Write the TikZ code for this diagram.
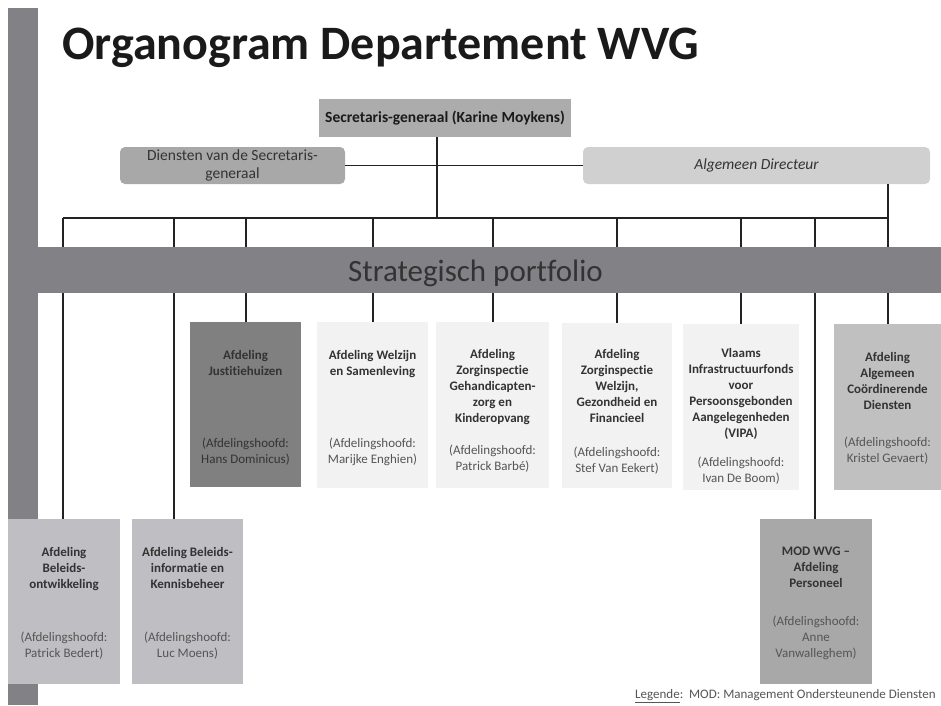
\documentclass[tikz,border=0pt]{standalone}
\usepackage{fontspec}
\setmainfont{Carlito}[Ligatures={NoCommon}]
\definecolor{barcol}{HTML}{818186}
\definecolor{linecol}{HTML}{222222}
\definecolor{titlecol}{HTML}{1A1A1A}
\definecolor{ttlcol}{HTML}{333333}
\definecolor{afdcol}{HTML}{555555}
\definecolor{secfill}{HTML}{ACACAC}
\definecolor{dienfill}{HTML}{A8A8A8}
\definecolor{algfill}{HTML}{D0D0D0}
\definecolor{darkfill}{HTML}{808080}
\definecolor{lightfill}{HTML}{F2F2F2}
\definecolor{midfill}{HTML}{BFBFC3}
\definecolor{krifill}{HTML}{C0C0C0}
\definecolor{modfill}{HTML}{A8A8A8}
\tikzset{
  conn/.style={draw=linecol, line width=1.4pt},
  orgbox/.style={draw=none, inner sep=0, anchor=north west},
  topbox/.style={draw=none, inner sep=0, align=center, text=ttlcol,
    font=\fontsize{15.5}{18}\selectfont},
  ttl/.style={inner sep=0, anchor=north, align=center, text=ttlcol,
    font=\fontsize{13}{16}\selectfont\bfseries},
  afd/.style={inner sep=0, anchor=north, align=center, text=afdcol,
    font=\fontsize{13}{16}\selectfont},
}
\begin{document}
\begin{tikzpicture}[x=1pt,y=-1pt]
\useasboundingbox (0,0) rectangle (941,705);
\fill[white] (0,0) rectangle (941,705);

% left bar
\fill[barcol] (8,8) rectangle (38,705);

% title
\node[anchor=base west, inner sep=0, text=titlecol,
  font=\fontsize{48}{52}\selectfont\bfseries] (title) at (62,59) {Organogram Departement WVG};

% top boxes
\node[topbox, fill=secfill, minimum width=252pt, minimum height=38pt,
  font=\fontsize{15.5}{18}\selectfont\bfseries, text=titlecol] (sg) at (445,118) {Secretaris-generaal (Karine Moykens)};
\node[topbox, fill=dienfill, rounded corners=5pt, minimum width=225pt, minimum height=37pt] (dien) at (232.5,165.5) {Diensten van de Secretaris-\\generaal};
\node[topbox, fill=algfill, rounded corners=5pt, minimum width=347pt, minimum height=37pt] (alg) at (756.5,165.5) {\itshape Algemeen Directeur};

% bus coordinates
\coordinate (sgdrop) at (437,218);
\coordinate (b1) at (63,218);
\coordinate (b2) at (174,218);
\coordinate (b3) at (246,218);
\coordinate (b4) at (373,218);
\coordinate (b5) at (493,218);
\coordinate (b6) at (617,218);
\coordinate (b7) at (741,218);
\coordinate (b8) at (815,218);
\coordinate (b9) at (888,218);

% boxes
\node[orgbox, fill=midfill, minimum width=112pt, minimum height=165pt] (bo) at (8,519) {};
\node[orgbox, fill=midfill, minimum width=111pt, minimum height=165pt] (bi) at (132,519) {};
\node[orgbox, fill=darkfill, minimum width=111pt, minimum height=165pt] (jus) at (190,322) {};
\node[orgbox, fill=lightfill, minimum width=111pt, minimum height=166pt] (wel) at (317,322) {};
\node[orgbox, fill=lightfill, minimum width=113pt, minimum height=166pt] (geh) at (436,322) {};
\node[orgbox, fill=lightfill, minimum width=110pt, minimum height=165pt] (zw) at (562,323) {};
\node[orgbox, fill=lightfill, minimum width=116pt, minimum height=166pt] (vipa) at (683,324) {};
\node[orgbox, fill=krifill, minimum width=107pt, minimum height=166pt] (kri) at (834,324) {};
\node[orgbox, fill=modfill, minimum width=112pt, minimum height=165pt] (mod) at (760,519) {};

% connectors
\draw[conn] (sg.south -| sgdrop) -- (sgdrop);
\draw[conn] (dien.east) -- (alg.west);
\draw[conn] (alg.south -| b9) -- (b9);
\draw[conn] (b1) -- (b9);
\draw[conn] (b1) -- (b1 |- bo.north);
\draw[conn] (b2) -- (b2 |- bi.north);
\draw[conn] (b3) -- (b3 |- jus.north);
\draw[conn] (b4) -- (b4 |- wel.north);
\draw[conn] (b5) -- (b5 |- geh.north);
\draw[conn] (b6) -- (b6 |- zw.north);
\draw[conn] (b7) -- (b7 |- vipa.north);
\draw[conn] (b8) -- (b8 |- mod.north);
\draw[conn] (b9) -- (b9 |- kri.north);

% band
\node[orgbox, fill=barcol, minimum width=903pt, minimum height=46pt] (band) at (38,247) {};
\node[inner sep=0, text=ttlcol, font=\fontsize{31}{34}\selectfont] (bandtxt) at (475.5,273) {Strategisch portfolio};

% box texts
\node[ttl] (bo-t) at (64,547) {Afdeling\\Beleids-\\ontwikkeling};
\node[afd] (bo-a) at (64,632) {(Afdelingshoofd:\\Patrick Bedert)};
\node[ttl] (bi-t) at (187.5,547) {Afdeling Beleids-\\informatie en\\Kennisbeheer};
\node[afd] (bi-a) at (187.5,632) {(Afdelingshoofd:\\Luc Moens)};
\node[ttl] (jus-t) at (245.5,350) {Afdeling\\Justitiehuizen};
\node[afd, text=ttlcol] (jus-a) at (245.5,438) {(Afdelingshoofd:\\Hans Dominicus)};
\node[ttl] (wel-t) at (372.5,350) {Afdeling Welzijn\\en Samenleving};
\node[afd] (wel-a) at (372.5,438) {(Afdelingshoofd:\\Marijke Enghien)};
\node[ttl] (geh-t) at (492.5,349) {Afdeling\\Zorginspectie\\Gehandicapten-\\zorg en\\Kinderopvang};
\node[afd] (geh-a) at (492.5,445) {(Afdelingshoofd:\\Patrick Barbé)};
\node[ttl] (zw-t) at (617,349) {Afdeling\\Zorginspectie\\Welzijn,\\Gezondheid en\\Financieel};
\node[afd] (zw-a) at (617,447) {(Afdelingshoofd:\\Stef Van Eekert)};
\node[ttl] (vipa-t) at (741,348) {Vlaams\\Infrastructuurfonds\\voor\\Persoonsgebonden\\Aangelegenheden\\(VIPA)};
\node[afd] (vipa-a) at (741,457) {(Afdelingshoofd:\\Ivan De Boom)};
\node[ttl] (kri-t) at (887.5,352) {Afdeling\\Algemeen\\Coördinerende\\Diensten};
\node[afd] (kri-a) at (887.5,437) {(Afdelingshoofd:\\Kristel Gevaert)};
\node[ttl] (mod-t) at (816,547) {MOD WVG –\\Afdeling\\Personeel};
\node[afd] (mod-a) at (816,616) {(Afdelingshoofd:\\Anne\\Vanwalleghem)};

% legend
\node[anchor=west, inner sep=0, text=afdcol, font=\fontsize{13}{15}\selectfont] (leg) at (635,696) {\underline{Legende}:\ \ MOD: Management Ondersteunende Diensten};
\end{tikzpicture}
\end{document}
